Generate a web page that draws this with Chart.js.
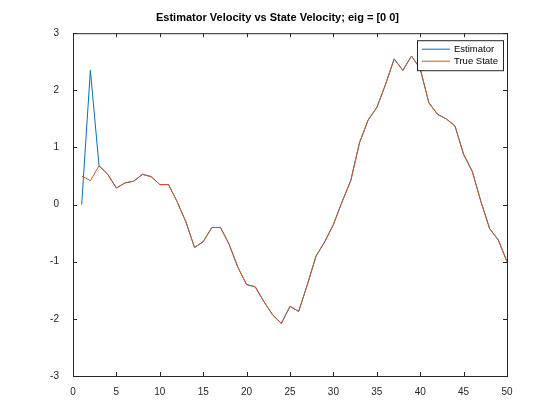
<!DOCTYPE html>
<html><head><script src="https://cdn.jsdelivr.net/npm/chart.js@4"></script>
<style>body{margin:0;background:#fff}#w{width:560px;height:420px}</style></head>
<body><div id="w"><canvas id="c"></canvas></div>
<script>
const xs=[];for(let i=1;i<=50;i++)xs.push(i);
const trueState=[0.5,0.42,0.68,0.53,0.29,0.38,0.41,0.53,0.49,0.35,0.35,0.05,-0.3,-0.75,-0.65,-0.4,-0.4,-0.7,-1.1,-1.4,-1.44,-1.7,-1.93,-2.08,-1.78,-1.87,-1.4,-0.9,-0.65,-0.35,0.05,0.42,1.08,1.48,1.7,2.1,2.55,2.35,2.6,2.38,1.78,1.58,1.5,1.38,0.88,0.58,0.05,-0.42,-0.62,-1.0];
const estimator=[0,2.35].concat(trueState.slice(2));
const xTicks=[0,5,10,15,20,25,30,35,40,45,50];
const yTicks=[-3,-2,-1,0,1,2,3];
const seriesNames=['Estimator','True State'];
const colors=['#0072BD','#D95319'];
const F='"Liberation Sans", Arial, sans-serif';
const frame={id:'frame',afterDraw(ch){const {ctx,chartArea:a,scales:{x,y}}=ch;ctx.save();ctx.strokeStyle='#262626';ctx.lineWidth=1;
ctx.strokeRect(a.left+.5,a.top+.5,a.right-a.left,a.bottom-a.top);ctx.beginPath();
xTicks.forEach(v=>{const p=Math.round(x.getPixelForValue(v))+.5;ctx.moveTo(p,a.bottom);ctx.lineTo(p,a.bottom-4);ctx.moveTo(p,a.top);ctx.lineTo(p,a.top+4);});
yTicks.forEach(v=>{const p=Math.round(y.getPixelForValue(v))+.5;ctx.moveTo(a.left,p);ctx.lineTo(a.left+4,p);ctx.moveTo(a.right,p);ctx.lineTo(a.right-4,p);});
ctx.stroke();
const lx=a.right-90,ly=a.top+7,lw=86,lh=30;ctx.fillStyle='#fff';ctx.fillRect(lx,ly,lw,lh);ctx.strokeRect(lx+.5,ly+.5,lw,lh);
ctx.font='9.5px '+F;ctx.textBaseline='middle';
seriesNames.forEach((n,i)=>{const yy=ly+9+i*12;ctx.strokeStyle=colors[i];ctx.beginPath();ctx.moveTo(lx+5,yy);ctx.lineTo(lx+33,yy);ctx.stroke();ctx.fillStyle='#000';ctx.fillText(n,lx+37,yy);});
ctx.restore();}};
new Chart(document.getElementById('c'),{type:'line',
data:{labels:xs,datasets:[
{label:seriesNames[0],order:2,data:xs.map((v,i)=>({x:v,y:estimator[i]})),borderColor:colors[0],borderWidth:1,pointRadius:0,tension:0},
{label:seriesNames[1],order:1,data:xs.map((v,i)=>({x:v,y:trueState[i]})),borderColor:colors[1],borderWidth:1,pointRadius:0,tension:0}]},
plugins:[frame],
options:{responsive:true,maintainAspectRatio:false,animation:false,
layout:{padding:{left:48,right:53,top:8,bottom:20}},
plugins:{legend:{display:false},tooltip:{enabled:false},
title:{display:true,text:'Estimator Velocity vs State Velocity; eig = [0 0]',font:{family:F,size:11,weight:'bold'},color:'#000',padding:{top:3,bottom:9}}},
scales:{x:{type:'linear',min:0,max:50,afterBuildTicks(s){s.ticks=xTicks.map(v=>({value:v}));},
grid:{display:false},border:{display:false},ticks:{font:{family:F,size:10},color:'#262626',padding:2,maxRotation:0}},
y:{min:-3,max:3,afterBuildTicks(s){s.ticks=yTicks.map(v=>({value:v}));},afterFit(s){s.width=25;},
grid:{display:false},border:{display:false},ticks:{font:{family:F,size:10},color:'#262626',padding:6}}}}});
</script></body></html>
